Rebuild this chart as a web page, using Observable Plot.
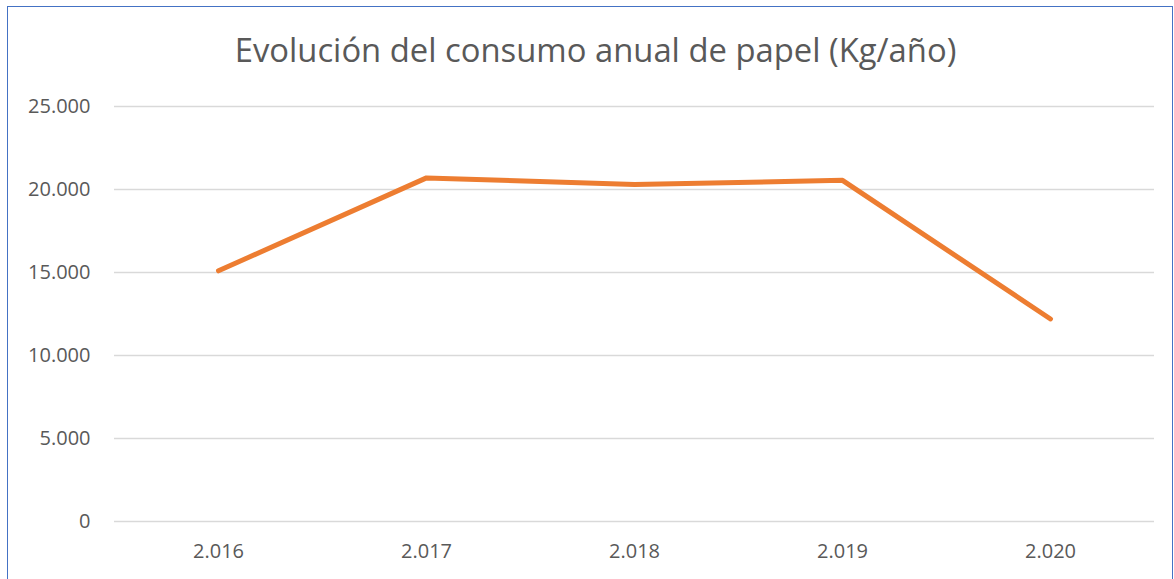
<!DOCTYPE html>
<html>
<head>
<meta charset="utf-8">
<script src="https://cdn.jsdelivr.net/npm/d3@7"></script>
<script src="https://cdn.jsdelivr.net/npm/@observablehq/plot@0.6"></script>
<style>
  html, body { margin: 0; padding: 0; background: #fff; }
  #wrap { position: relative; width: 1174px; height: 579px; overflow: hidden; font-family: "Open Sans", sans-serif; }
  #border { position: absolute; left: 7px; top: 6px; width: 1166px; height: 600px; border: 1px solid #4472C4; box-sizing: border-box; }
  #title { position: absolute; left: 0; width: 1191px; top: 27px; text-align: center; font-size: 32.8px; color: #595959; white-space: nowrap; }
  #chart { position: absolute; left: 0; top: 0; }
</style>
</head>
<body>
<div id="wrap">
  <div id="border"></div>
  <div id="title">Evolución del consumo anual de papel (Kg/año)</div>
  <div id="chart"></div>
</div>
<script>
const years = [2016, 2017, 2018, 2019, 2020];
const consumption = [15100, 20700, 20300, 20550, 12200];
const yTicks = [0, 5000, 10000, 15000, 20000, 25000];

const data = years.map((y, i) => ({year: y, value: consumption[i]}));
const loc = d3.formatLocale({decimal: ",", thousands: ".", grouping: [3], currency: ["", "€"]});
const fmt = loc.format(",d");

const chart = Plot.plot({
  width: 1174,
  height: 579,
  marginLeft: 114,
  marginRight: 20,
  marginTop: 106,
  marginBottom: 58,
  style: {fontFamily: "Open Sans, sans-serif", fontSize: "20px", color: "#595959", background: "transparent"},
  x: {type: "point", domain: years, padding: 0.5, label: null, tickFormat: fmt, tickSize: 0, tickPadding: 22},
  y: {domain: [0, 25000], ticks: yTicks, label: null, tickFormat: fmt, tickSize: 0, tickPadding: 24},
  marks: [
    Plot.ruleY(yTicks, {stroke: "#D9D9D9", strokeWidth: 1.5}),
    Plot.line(data, {x: "year", y: "value", stroke: "#ED7D31", strokeWidth: 5, strokeLinecap: "round", strokeLinejoin: "round"})
  ]
});
document.getElementById("chart").appendChild(chart);
</script>
</body>
</html>
